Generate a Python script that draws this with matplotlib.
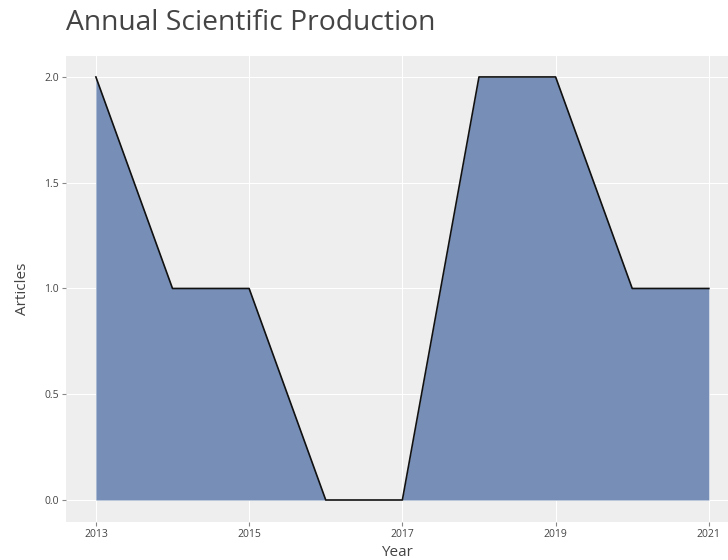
import matplotlib
matplotlib.use("Agg")
import matplotlib.pyplot as plt

years = [2013, 2014, 2015, 2016, 2017, 2018, 2019, 2020, 2021]
articles = [2, 1, 1, 0, 0, 2, 2, 1, 1]
xticks = [2013, 2015, 2017, 2019, 2021]
yticks = [0.0, 0.5, 1.0, 1.5, 2.0]

plt.rcParams['font.family'] = ['Open Sans', 'DejaVu Sans']
fig = plt.figure(figsize=(7.28, 5.6), dpi=100)
W, H = 728, 560
ax = fig.add_axes([66 / W, 1 - 522 / H, (728 - 66) / W, (522 - 56) / H])
ax.set_facecolor('#EEEEEE')
ax.fill_between(years, articles, 0, color='#778FB7', linewidth=0, zorder=2)
ax.plot(years, articles, color='#111111', linewidth=1.2, zorder=3)
ax.set_xlim(2012.61, 2021.25)
ax.set_ylim(-0.104, 2.099)
ax.set_xticks(xticks)
ax.set_xticklabels([str(t) for t in xticks])
ax.set_yticks(yticks)
ax.set_yticklabels([f"{t:.1f}" for t in yticks])
ax.grid(True, color='white', linewidth=0.8, zorder=1)
ax.set_axisbelow(True)
for s in ax.spines.values():
    s.set_visible(False)
ax.tick_params(axis='both', colors='#444444', labelsize=7.5, length=3, width=0.8, pad=2)
ax.tick_params(axis='both', color='#888888')
ax.set_xlabel('Year', fontsize=11, color='#444444', labelpad=4)
ax.set_ylabel('Articles', fontsize=11, color='#444444', labelpad=10)
fig.text(66 / W, 1 - 23 / H, 'Annual Scientific Production', fontsize=20.3,
         color='#444444', ha='left', va='center')
fig.savefig('out.png', dpi=100)
